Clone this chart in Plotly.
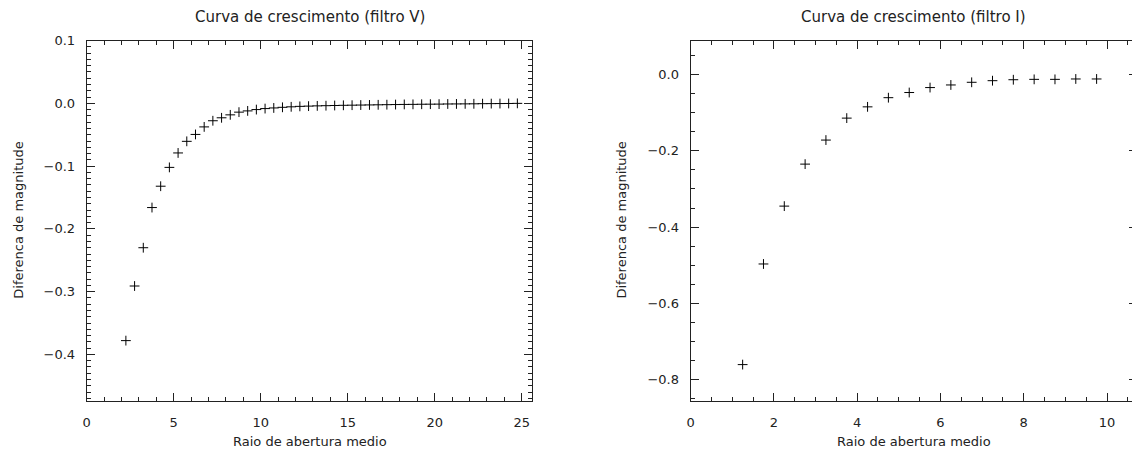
import plotly.graph_objects as go
from plotly.subplots import make_subplots

# ---- data ----
radius_v = [2.25, 2.75, 3.25, 3.75, 4.25, 4.75, 5.25, 5.75, 6.25, 6.75,
            7.25, 7.75, 8.25, 8.75, 9.25, 9.75, 10.25, 10.75, 11.25, 11.75,
            12.25, 12.75, 13.25, 13.75, 14.25, 14.75, 15.25, 15.75, 16.25, 16.75,
            17.25, 17.75, 18.25, 18.75, 19.25, 19.75, 20.25, 20.75, 21.25, 21.75,
            22.25, 22.75, 23.25, 23.75, 24.25, 24.75]
dmag_v = [-0.378, -0.291, -0.230, -0.166, -0.132, -0.102, -0.079, -0.0605, -0.0495, -0.0375,
          -0.0277, -0.023, -0.0183, -0.014, -0.012, -0.0099, -0.0083, -0.0073, -0.0063, -0.0055,
          -0.0048, -0.0044, -0.0040, -0.0037, -0.0034, -0.0031, -0.0029, -0.0027, -0.0025, -0.0023,
          -0.0021, -0.0019, -0.0017, -0.0016, -0.0014, -0.0013, -0.0012, -0.0010, -0.0009, -0.0008,
          -0.0007, -0.0005, -0.0004, -0.0003, -0.0002, 0.0]

radius_i = [1.25, 1.75, 2.25, 2.75, 3.25, 3.75, 4.25, 4.75, 5.25, 5.75,
            6.25, 6.75, 7.25, 7.75, 8.25, 8.75, 9.25, 9.75]
dmag_i = [-0.760, -0.4965, -0.345, -0.235, -0.172, -0.1145, -0.085, -0.061, -0.0475, -0.0345,
          -0.0277, -0.0207, -0.0165, -0.014, -0.013, -0.013, -0.012, -0.012]

title_v = "Curva de crescimento (filtro V)"
title_i = "Curva de crescimento (filtro I)"
xlabel = "Raio de abertura medio"
ylabel = "Diferenca de magnitude"

FONT = "DejaVu Sans"
INK = "#222222"

fig = make_subplots(rows=1, cols=2)

marker = dict(symbol="cross-thin", size=7, line=dict(color="black", width=1))
fig.add_trace(go.Scatter(x=radius_v, y=dmag_v, mode="markers", marker=marker,
                         showlegend=False), row=1, col=1)
fig.add_trace(go.Scatter(x=radius_i, y=dmag_i, mode="markers", marker=marker,
                         showlegend=False), row=1, col=2)

# page body has an 8px default margin: the figure is drawn 8px in from the window edge
OFF = 8
W, H = 1140 - OFF, 456 - OFF


def px_x(p):
    return (p - OFF) / W


def px_y(p):
    return 1 - (p - OFF) / H


top_px, bot_px = 34, 400
ydom = [px_y(bot_px), px_y(top_px)]

common = dict(showgrid=False, zeroline=False, showline=True, linecolor=INK, linewidth=1,
              mirror="ticks", ticks="inside", ticklen=8, tickcolor=INK, tickwidth=1,
              tickfont=dict(family=FONT, size=13, color=INK))

fig.update_xaxes(**common, ticklabelstandoff=10)
fig.update_yaxes(**common, ticklabelstandoff=8)

fig.update_xaxes(row=1, col=1, domain=[px_x(83), px_x(530)], range=[0, 25.6],
                 tick0=0, dtick=5, minor=dict(dtick=1, ticks="inside", ticklen=4, tickcolor=INK))
fig.update_yaxes(row=1, col=1, domain=ydom, range=[-0.474, 0.1], tick0=0, dtick=0.1,
                 tickformat=".1f",
                 minor=dict(dtick=0.01, ticks="inside", ticklen=4, tickcolor=INK))
fig.update_xaxes(row=1, col=2, domain=[px_x(689), px_x(1137)], range=[0, 10.72],
                 tick0=0, dtick=2, minor=dict(dtick=0.5, ticks="inside", ticklen=4, tickcolor=INK))
fig.update_yaxes(row=1, col=2, domain=ydom, range=[-0.855, 0.0885], tick0=0, dtick=0.2,
                 tickformat=".1f",
                 minor=dict(dtick=0.05, ticks="inside", ticklen=4, tickcolor=INK))

ann = []


def a(text, x, y, rot=0, size=13):
    ann.append(dict(text=text, x=px_x(x), y=px_y(y), xref="paper", yref="paper",
                    showarrow=False, textangle=rot, xanchor="center", yanchor="middle",
                    font=dict(family=FONT, size=size, color=INK)))


a(title_v, 307, 10, size=15)
a(title_i, 913, 10, size=15)
a(xlabel, 307, 441)
a(xlabel, 913, 441)
a(ylabel, 15, 216, rot=-90)
a(ylabel, 620, 216, rot=-90)

fig.update_layout(width=W, height=H, margin=dict(l=0, r=0, t=0, b=0),
                  paper_bgcolor="white", plot_bgcolor="white", annotations=ann)

fig.write_html("out.html")
